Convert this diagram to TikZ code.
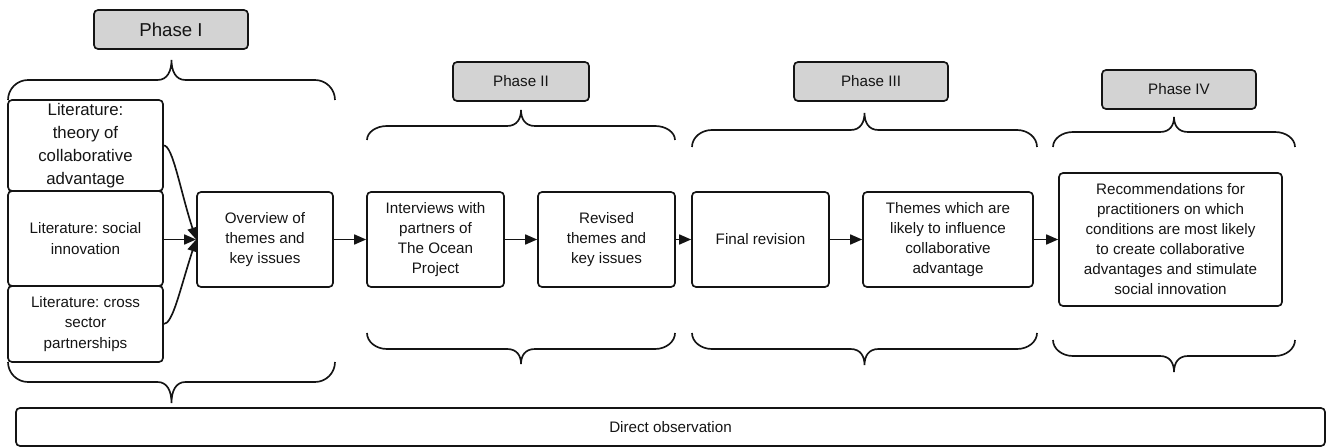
\documentclass[tikz,border=0pt]{standalone}
\usepackage{fontspec}
\setmainfont{Liberation Sans}
\usetikzlibrary{arrows.meta}

\definecolor{phasefill}{RGB}{211,211,211}
\definecolor{ink}{RGB}{20,20,20}

% curly brace: left x, right x, y of the free ends, y of the long stroke, y of the tip
\newcommand\phasebrace[5]{%
  \draw[bracestyle] (#1,#3) .. controls (#1,{#4+0.45*(#3-#4)}) and ({#1+9},#4) .. ({#1+20},#4)
    -- ({(#1+#2)/2-14},#4) .. controls ({(#1+#2)/2-4},#4) and ({(#1+#2)/2},{#4+0.45*(#5-#4)}) .. ({(#1+#2)/2},#5)
    .. controls ({(#1+#2)/2},{#4+0.45*(#5-#4)}) and ({(#1+#2)/2+4},#4) .. ({(#1+#2)/2+14},#4)
    -- ({#2-20},#4) .. controls ({#2-9},#4) and (#2,{#4+0.45*(#3-#4)}) .. (#2,#3);}

\tikzset{
  base/.style={draw=ink, line width=1.25pt, rounded corners=3pt, align=center,
    inner sep=2pt, text=ink, font=\fontsize{11.4}{15}\selectfont},
  stepbox/.style={base, minimum width=#1},
  phaselabel/.style={base, fill=phasefill, minimum height=29.25pt},
  bracestyle/.style={draw=ink, line width=1.25pt},
  conn/.style={draw=ink, line width=1.25pt, -{Triangle[length=9pt,width=7.5pt]}},
}

\begin{document}
\frenchspacing
\begin{tikzpicture}[x=0.75pt, y=-0.75pt]
\useasboundingbox (0,0) rectangle (1327,448);

% phase labels
\node[phaselabel, minimum width=115.5pt, font=\fontsize{14}{17}\selectfont] (p1) at (171,29.5) {Phase I};
\node[phaselabel, minimum width=102pt] (p2) at (521,81.5) {Phase II};
\node[phaselabel, minimum width=115.5pt] (p3) at (871,81.5) {Phase III};
\node[phaselabel, minimum width=115.5pt] (p4) at (1179,89.5) {Phase IV};

% literature sources
\node[base, minimum width=116.25pt, minimum height=68.25pt, font=\fontsize{12.6}{17.25}\selectfont] (lit1) at (85.5,145.5)
  {Literature:\\theory of\\collaborative\\advantage};
\node[base, minimum width=116.25pt, minimum height=71.25pt, font=\fontsize{11.4}{15.75}\selectfont] (lit2) at (85.5,238.5)
  {Literature: social\\innovation};
\node[base, minimum width=116.25pt, minimum height=57pt, font=\fontsize{11.4}{15.5}\selectfont] (lit3) at (85.5,324)
  {Literature: cross\\sector\\partnerships};

% process steps
\node[stepbox=102pt, minimum height=71.25pt] (overview) at (265,239.5) {Overview of\\themes and\\key issues};
\node[stepbox=102.75pt, minimum height=71.25pt] (interviews) at (435.5,239.5) {Interviews with\\partners of\\The Ocean\\Project};
\node[stepbox=102.75pt, minimum height=71.25pt] (revised) at (606.5,239.5) {Revised\\themes and\\key issues};
\node[stepbox=102.75pt, minimum height=71.25pt] (final) at (760.5,239.5) {Final revision};
\node[stepbox=127.5pt, minimum height=71.25pt] (themes) at (948,239.5) {Themes which are\\likely to influence\\collaborative\\advantage};
\node[stepbox=167.25pt, minimum height=99.75pt] (recs) at (1170.5,239.5)
  {Recommendations for\\practitioners on which\\conditions are most likely\\to create collaborative\\advantages and stimulate\\social innovation};

\node[stepbox=981.75pt, minimum height=28.5pt] (direct) at (670.5,427) {Direct observation};

% connectors: three sources merging into the overview
\draw[conn] (lit1.east) .. controls +(9,0) and +(-16,-49) .. (overview.west);
\draw[conn] (lit2.east |- overview.west) -- (overview.west);
\draw[conn] (lit3.east) .. controls +(9,0) and +(-16,49) .. (overview.west);
\draw[conn] (overview) -- (interviews);
\draw[conn] (interviews) -- (revised);
\draw[conn] (revised) -- (final);
\draw[conn] (final) -- (themes);
\draw[conn] (themes) -- (recs);

% braces grouping each phase
\phasebrace{8}{335}{100}{80}{60}
\phasebrace{8}{335}{362}{382}{403}
\phasebrace{367}{675}{140}{126}{110}
\phasebrace{367}{675}{333}{349}{364}
\phasebrace{692}{1037}{147}{130}{113}
\phasebrace{692}{1037}{333}{349}{365}
\phasebrace{1053}{1295}{147}{132}{117}
\phasebrace{1053}{1295}{340}{356}{372}
\end{tikzpicture}
\end{document}
